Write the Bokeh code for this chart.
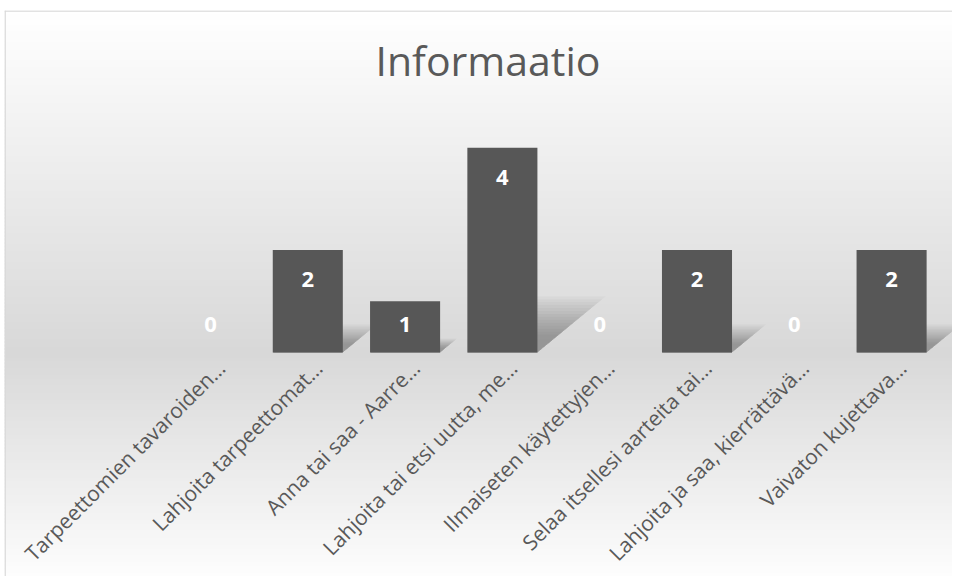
import numpy as np
from bokeh.plotting import figure
from bokeh.models import ColumnDataSource, Range1d, Span
from bokeh.core.properties import value
from bokeh.embed import file_html
from bokeh.resources import INLINE

# ---- data ----
title_text = "Informaatio"
categories = [
    "Tarpeettomien tavaroiden…",
    "Lahjoita tarpeettomat…",
    "Anna tai saa - Aarre…",
    "Lahjoita tai etsi uutta, me…",
    "Ilmaiseten käytettyjen…",
    "Selaa itsellesi aarteita tai…",
    "Lahjoita ja saa, kierrättävä…",
    "Vaivaton kujettava…",
]
counts = [0, 2, 1, 4, 0, 2, 0, 2]

# ---- layout ----
W, H = 952, 576
X0, X1 = -2.117, 7.626
Y0, Y1 = -4.375, 6.680

p = figure(width=W, height=H, output_backend="svg", toolbar_location=None,
           x_range=Range1d(X0, X1), y_range=Range1d(Y0, Y1),
           min_border_left=4, min_border_right=0, min_border_top=10, min_border_bottom=0)
p.axis.visible = False
p.grid.visible = False
p.outline_line_color = None
p.border_fill_color = "white"
p.background_fill_color = "white"

# ---- background gradient (white -> light gray at baseline -> white) ----
n = 160
edges = np.linspace(Y0, Y1, n + 1)
step = edges[1] - edges[0]
mids = (edges[:-1] + edges[1:]) / 2
cols = []
for m in mids:
    if m >= 0:
        g = 216 + (255 - 216) * (m / Y1)
    else:
        g = 216 + (253 - 216) * (m / Y0)
    g = int(round(min(255, g)))
    cols.append("#%02x%02x%02x" % (g, g, g))
p.quad(left=X0, right=X1, bottom=edges[:-1], top=edges[1:] + step * 0.6,
       fill_color=cols, line_color=None)

# chart border (left and top)
p.add_layout(Span(location=X0 + 0.006, dimension="height", line_color="#d9d9d9", line_width=1.5))
p.add_layout(Span(location=Y1 - 0.01, dimension="width", line_color="#d9d9d9", line_width=1.5))

x = np.arange(len(categories))
v = np.array(counts, dtype=float)
hw = 0.36

# ---- soft shadows ----
for s in np.linspace(1.1, 0.35, 14):
    xs, ys = [], []
    for xi, vi in zip(x, v):
        if vi <= 0:
            continue
        dx = 0.16 * vi * s
        dy = 0.25 * vi * s
        xs.append([xi - hw, xi + hw, xi + hw + dx, xi - hw + dx])
        ys.append([0, 0, dy, dy])
    p.patches(xs, ys, fill_color="black", fill_alpha=0.024, line_color=None)

# ---- bars ----
src = ColumnDataSource(dict(x=x, top=v, cat=categories,
                            ly=np.maximum(v - 0.574, 0.546),
                            lab=[str(c) for c in counts]))
p.vbar(x="x", top="top", bottom=0, width=2 * hw, source=src,
       fill_color="#575757", line_color=None)

# ---- value labels ----
p.text(x="x", y="ly", text="lab", source=src, text_color="white",
       text_font=value("Open Sans"), text_font_style="bold",
       text_font_size="22px", text_align="center", text_baseline="alphabetic")

# ---- category labels ----
p.text(x=x + 0.11, y=-0.23, text=categories, angle=np.pi / 4,
       text_color="#595959", text_font=value("Open Sans"),
       text_font_size="21px", text_align="right", text_baseline="middle")

# ---- title ----
p.text(x=[2.852], y=[5.71], text=[title_text], text_color="#595959",
       text_font=value("Open Sans"), text_font_size="41px",
       text_align="center", text_baseline="alphabetic")

open("out.html", "w").write(file_html(p, INLINE))
